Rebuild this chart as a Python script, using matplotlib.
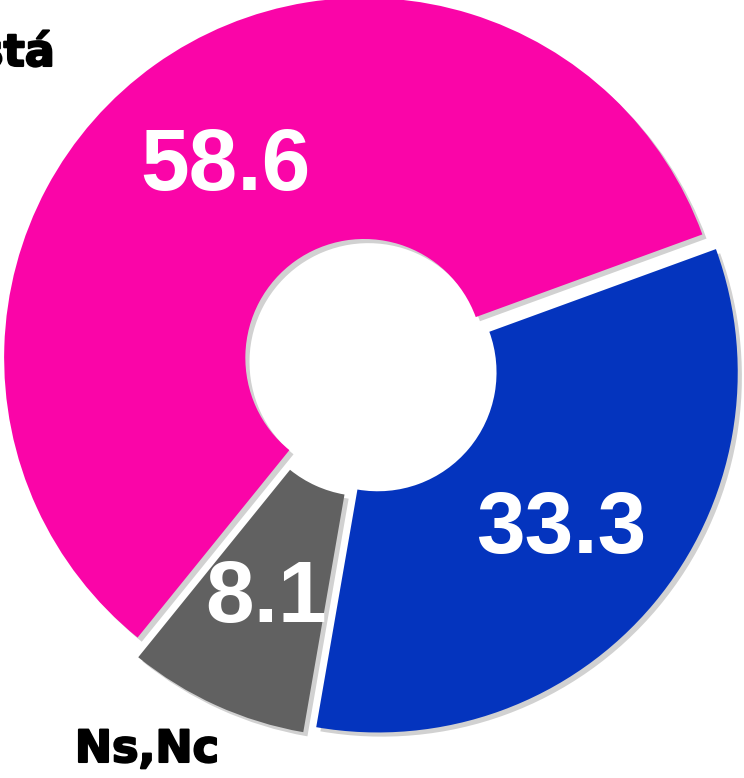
import matplotlib
matplotlib.use("Agg")
import matplotlib.pyplot as plt
import matplotlib.patheffects as pe
import numpy as np

categories = ["Está", "No está", "Ns,Nc"]
values = [58.6, 33.3, 8.1]
colors = ["#FA05A8", "#0434BE", "#616161"]
explode = [0.028, 0.028, 0.035]

fig = plt.figure(figsize=(7.44, 7.78), dpi=100)
ax = fig.add_axes([0, 0, 1, 1])

wedges, texts = ax.pie(
    values,
    colors=colors,
    startangle=231,
    counterclock=False,
    explode=explode,
    radius=1.0,
    wedgeprops=dict(width=0.67, linewidth=0),
)
for w in wedges:
    w.set_path_effects([
        pe.SimplePatchShadow(offset=(3, -3), shadow_rgbFace="#000000", alpha=0.18),
        pe.Normal(),
    ])
ax.set_aspect("auto")
ax.set_xlim(-370 / 360, (744 - 370) / 360)
ax.set_ylim(-(778 - 366) / 360, 366 / 360)
ax.axis("off")

NUMFONT = "Liberation Sans"
half_digit = 27 / 360
total = sum(values)
ang = 231
for v, exp in zip(values, explode):
    span = v / total * 360
    mid = np.deg2rad(ang - span / 2)
    ang -= span
    r = 0.665
    x = (r + exp) * np.cos(mid)
    y = (r + exp) * np.sin(mid) - half_digit
    ax.text(x, y, f"{v:.1f}", ha="center", va="baseline", color="white",
            fontsize=63, fontweight="bold", family=NUMFONT)

LBLFONT = "DejaVu Sans"
ax.text((55 - 370) / 360, (366 - 66) / 360, categories[0], ha="right", va="baseline",
        fontsize=32, fontweight="bold", family=LBLFONT, color="black",
        path_effects=[pe.withStroke(linewidth=1.5, foreground="black")])
ax.text((147 - 370) / 360, (366 - 762) / 360, categories[2], ha="center", va="baseline",
        fontsize=32, fontweight="bold", family=LBLFONT, color="black",
        path_effects=[pe.withStroke(linewidth=1.5, foreground="black")])

fig.savefig("out.png", dpi=100)
